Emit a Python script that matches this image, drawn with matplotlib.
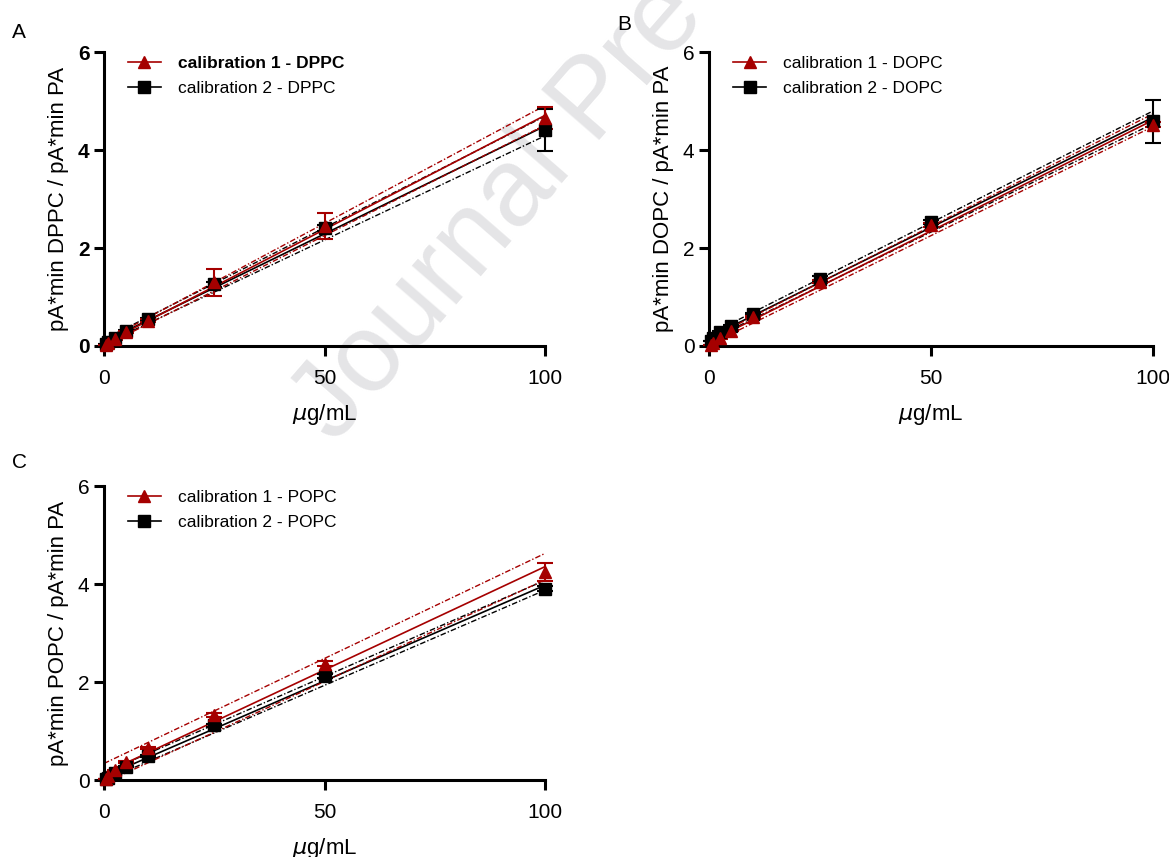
import numpy as np
import matplotlib
matplotlib.use("Agg")
import matplotlib.pyplot as plt
from matplotlib.lines import Line2D

plt.rcParams['font.family'] = ['Liberation Sans', 'DejaVu Sans']

RED = "#a50000"
BLACK = "#000000"

# concentrations (ug/mL)
conc = [0.5, 1, 2.5, 5, 10, 25, 50, 100]

# DPPC
dppc_cal1 = [0.03, 0.06, 0.14, 0.28, 0.52, 1.30, 2.45, 4.65]
dppc_cal1_sd = [0.0, 0.0, 0.01, 0.02, 0.03, 0.27, 0.27, 0.23]
dppc_cal2 = [0.05, 0.09, 0.17, 0.30, 0.55, 1.26, 2.41, 4.41]
dppc_cal2_sd = [0.0, 0.0, 0.01, 0.02, 0.03, 0.05, 0.06, 0.43]
dppc_band1 = [0.05, 0.20]   # 95% CI half width at x=0 and x=100
dppc_band2 = [0.05, 0.20]

# DOPC
dopc_cal1 = [0.03, 0.07, 0.16, 0.31, 0.59, 1.31, 2.47, 4.52]
dopc_cal1_sd = [0.0, 0.0, 0.01, 0.01, 0.02, 0.03, 0.04, 0.06]
dopc_cal2 = [0.10, 0.16, 0.29, 0.41, 0.66, 1.37, 2.53, 4.59]
dopc_cal2_sd = [0.0, 0.0, 0.01, 0.02, 0.02, 0.05, 0.05, 0.44]
dopc_band1 = [0.06, 0.13]
dopc_band2 = [0.06, 0.13]

# POPC
popc_cal1 = [0.03, 0.08, 0.20, 0.37, 0.65, 1.33, 2.37, 4.25]
popc_cal1_sd = [0.0, 0.0, 0.01, 0.02, 0.02, 0.04, 0.05, 0.18]
popc_cal2 = [0.02, 0.05, 0.15, 0.27, 0.49, 1.12, 2.13, 3.90]
popc_cal2_sd = [0.0, 0.0, 0.01, 0.01, 0.02, 0.03, 0.04, 0.05]
popc_band1 = [0.20, 0.27]
popc_band2 = [0.08, 0.10]

dash_dot = (0, (4, 1.5, 1, 1.5))


def draw_series(ax, y, sd, band, color, marker):
    x = np.array(conc)
    y = np.array(y)
    slope, icpt = np.polyfit(x, y, 1)
    xx = np.array([0.0, 100.0])
    fit = slope * xx + icpt
    hw = band[0] + (band[1] - band[0]) * xx / 100.0
    ax.plot(xx, fit, color=color, lw=1.2, zorder=2)
    ax.plot(xx, fit + hw, color=color, lw=1.0, ls=dash_dot, zorder=2)
    ax.plot(xx, fit - hw, color=color, lw=1.0, ls=dash_dot, zorder=2)
    ax.errorbar(x, y, yerr=sd, fmt=marker, color=color, ms=9, capsize=6,
                elinewidth=1.5, capthick=1.5, zorder=4, clip_on=False)


def setup_axes(ax, ylabel, labels, bold=False):
    ax.set_xlim(0, 100)
    ax.set_ylim(0, 6)
    ax.set_xticks([0, 50, 100])
    ax.set_yticks([0, 2, 4, 6])
    ax.spines['top'].set_visible(False)
    ax.spines['right'].set_visible(False)
    for s in ['left', 'bottom']:
        ax.spines[s].set_linewidth(2.2)
    ax.tick_params(direction='out', length=7.5, width=2.2, labelsize=15)
    ax.tick_params(axis='x', pad=9)
    ax.tick_params(axis='y', pad=3)
    if bold:
        for t in ax.get_yticklabels():
            t.set_fontweight('bold')
    ax.set_xlabel(r"$\mu$g/mL", fontsize=16, labelpad=10)
    ax.set_ylabel(ylabel, fontsize=16, labelpad=6)
    ax.patch.set_alpha(0)

    handles = [Line2D([], [], color=RED, marker='^', ms=9, lw=1.2),
               Line2D([], [], color=BLACK, marker='s', ms=9, lw=1.2)]
    leg = ax.legend(handles, labels, loc='upper left', bbox_to_anchor=(0.019, 1.04),
                    frameon=False, fontsize=12.5, handlelength=1.9, handletextpad=1.0,
                    labelspacing=0.55)
    if bold:
        leg.get_texts()[0].set_fontweight('bold')


fig = plt.figure(figsize=(11.69, 8.57), dpi=100)
W, H = 1169.0, 857.0

axA = fig.add_axes([104 / W, 1 - 346 / H, 441 / W, 294 / H])
axB = fig.add_axes([709 / W, 1 - 346 / H, 444 / W, 294 / H])
axC = fig.add_axes([104 / W, 1 - 780 / H, 441 / W, 294 / H])

draw_series(axA, dppc_cal2, dppc_cal2_sd, dppc_band2, BLACK, 's')
draw_series(axA, dppc_cal1, dppc_cal1_sd, dppc_band1, RED, '^')
setup_axes(axA, "pA*min DPPC / pA*min PA",
           ["calibration 1 - DPPC", "calibration 2 - DPPC"], bold=True)

draw_series(axB, dopc_cal2, dopc_cal2_sd, dopc_band2, BLACK, 's')
draw_series(axB, dopc_cal1, dopc_cal1_sd, dopc_band1, RED, '^')
setup_axes(axB, "pA*min DOPC / pA*min PA",
           ["calibration 1 - DOPC", "calibration 2 - DOPC"])

draw_series(axC, popc_cal2, popc_cal2_sd, popc_band2, BLACK, 's')
draw_series(axC, popc_cal1, popc_cal1_sd, popc_band1, RED, '^')
setup_axes(axC, "pA*min POPC / pA*min PA",
           ["calibration 1 - POPC", "calibration 2 - POPC"])

fig.text(12 / W, 1 - 38 / H, "A", fontsize=15)
fig.text(617 / W, 1 - 30 / H, "B", fontsize=15)
fig.text(12 / W, 1 - 468 / H, "C", fontsize=15)

# journal watermark behind the panels
fig.text(335 / W, 1 - 445 / H, "Journal Pre-proof", fontsize=80, rotation=49,
         color="#e5e5e7", ha='left', va='baseline', rotation_mode='anchor',
         zorder=-1)

fig.savefig("out.png", dpi=100)
